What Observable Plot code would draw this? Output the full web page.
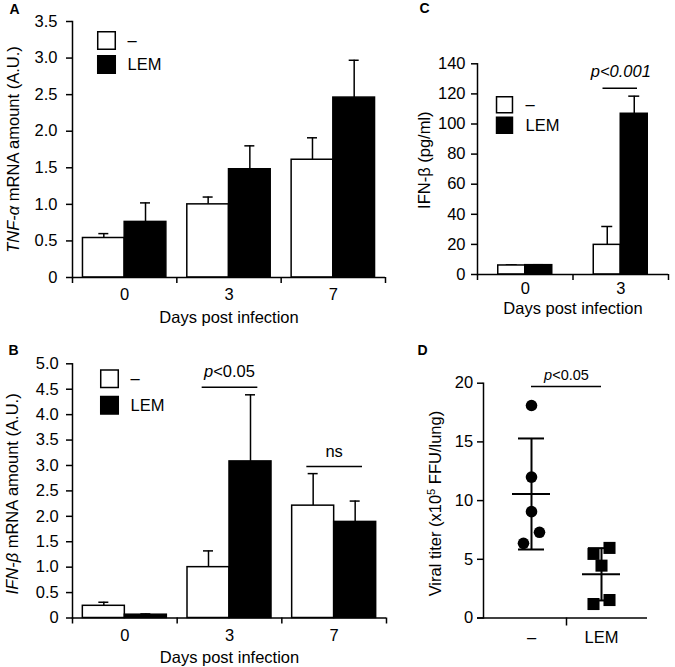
<!DOCTYPE html>
<html><head><meta charset="utf-8">
<script src="https://cdn.jsdelivr.net/npm/d3@7"></script>
<script src="https://cdn.jsdelivr.net/npm/@observablehq/plot@0.6"></script>
<style>
body{margin:0;background:#fff;}
#fig{position:relative;width:675px;height:667px;background:#fff;overflow:hidden;}
#fig > svg{position:absolute;}
</style></head><body><div id="fig"></div>
<script>
// ---------- data ----------
const days = ["0", "3", "7"];
const daysC = ["0", "3"];
const groups = ["–", "LEM"];

// A: TNF-α mRNA (mean, SEM)
const tnfCtrl = [0.54, 1.00, 1.61];
const tnfCtrlErr = [0.06, 0.10, 0.30];
const tnfLem = [0.76, 1.48, 2.46];
const tnfLemErr = [0.26, 0.32, 0.51];

// B: IFN-β mRNA
const ifnmCtrl = [0.24, 1.00, 2.21];
const ifnmCtrlErr = [0.07, 0.32, 0.63];
const ifnmLem = [0.065, 3.08, 1.89];
const ifnmLemErr = [0.015, 1.31, 0.41];

// C: IFN-β protein (pg/ml)
const ifnpCtrl = [6.0, 19.7];
const ifnpCtrlErr = [0.4, 12.2];
const ifnpLem = [6.2, 106.8];
const ifnpLemErr = [0.3, 11.7];

// D: viral titer (x10^5 FFU/lung)
const titerCtrl = [18.1, 12.0, 9.06, 7.3, 6.36];
const titerLem = [5.97, 5.46, 4.46, 1.53, 1.19];

// tick values
const ticksA = [0, 0.5, 1, 1.5, 2, 2.5, 3, 3.5];
const ticksB = [0, 0.5, 1, 1.5, 2, 2.5, 3, 3.5, 4, 4.5, 5];
const ticksC = [0, 20, 40, 60, 80, 100, 120, 140];
const ticksD = [0, 5, 10, 15, 20];

// significance annotations
const sigB = [{day: "3", y: 4.54, label: "p<0.05"}, {day: "7", y: 2.98, label: "ns"}];
const sigC = [{day: "3", y: 123.8, label: "p<0.001"}];
const sigD = [{y: 19.72, label: "p<0.05"}];

// ---------- helpers ----------
const FONT = "'Liberation Sans', Arial, Helvetica, sans-serif";
const FS = 16.5;
const fmt1 = d => d === 0 ? "0" : d.toFixed(1);
const fig = document.getElementById("fig");
const SVGNS = "http://www.w3.org/2000/svg";

const RICH = {
  "TNF-α mRNA amount (A.U.)": [["TNF-α", {"font-style": "italic"}], [" mRNA amount (A.U.)"]],
  "IFN-β mRNA amount (A.U.)": [["IFN-β", {"font-style": "italic"}], [" mRNA amount (A.U.)"]],
  "p<0.05": [["p", {"font-style": "italic"}], ["<0.05"]],
  "Viral titer (x10⁵ FFU/lung)": [["Viral titer (x10"], ["5", {"baseline-shift": "super", "font-size": "11px"}], [" FFU/lung)"]]
};
function richify(svg) {
  svg.querySelectorAll("text").forEach(t => {
    const parts = RICH[t.textContent];
    if (!parts) return;
    t.textContent = "";
    for (const [s, attrs] of parts) {
      const ts = document.createElementNS(SVGNS, "tspan");
      ts.textContent = s;
      if (attrs) for (const k in attrs) ts.setAttribute(k, attrs[k]);
      t.appendChild(ts);
    }
  });
}
function place(svg, box) {
  svg.style.left = box.left + "px";
  svg.style.top = box.top + "px";
  richify(svg);
  fig.appendChild(svg);
}
const style = {fontFamily: FONT, fontSize: FS + "px", color: "black", background: "transparent", overflow: "visible"};

function legendMarks(lg) {
  return groups.flatMap((g, i) => [
    Plot.dot([g], {x: null, y: null, frameAnchor: "top-left", dx: lg.dx, dy: lg.dy + i * lg.step,
      symbol: "square", r: lg.r, fill: i ? "black" : "white", stroke: "black", strokeWidth: 1.5}),
    Plot.text([g], {x: null, y: null, frameAnchor: "top-left", dx: lg.tx, dy: lg.dy + i * lg.step,
      text: d => d, textAnchor: "start", lineAnchor: "middle", fontSize: FS})
  ]);
}

function barPanel(c) {
  const b = c.box;
  const fw = b.width - b.ml - b.mr;
  const bw = fw / c.cats.length;
  const half = bw / 2;
  const ctrlRows = c.cats.map((d, i) => ({day: d, v: c.ctrl[i], hi: c.ctrl[i] + c.ctrlErr[i]}));
  const lemRows = c.cats.map((d, i) => ({day: d, v: c.lem[i], hi: c.lem[i] + c.lemErr[i]}));
  const W = c.barW, C = c.capW;
  const svg = Plot.plot({
    width: b.width, height: b.height,
    marginLeft: b.ml, marginRight: b.mr, marginTop: b.mt, marginBottom: b.mb,
    style,
    x: {type: "band", domain: c.cats, padding: 0, round: false},
    y: {domain: c.domain},
    marks: [
      Plot.ruleX(ctrlRows, {x: "day", y1: "v", y2: "hi", dx: -W / 2, strokeWidth: 1.5}),
      Plot.ruleX(lemRows, {x: "day", y1: "v", y2: "hi", dx: W / 2, strokeWidth: 1.5}),
      Plot.tickY(ctrlRows, {x: "day", y: "hi", insetLeft: half - W / 2 - C / 2, insetRight: half + W / 2 - C / 2, strokeWidth: 1.5}),
      Plot.tickY(lemRows, {x: "day", y: "hi", insetLeft: half + W / 2 - C / 2, insetRight: half - W / 2 - C / 2, strokeWidth: 1.5}),
      Plot.barY(ctrlRows, {x: "day", y: "v", fill: "white", stroke: "black", strokeWidth: 1.5, insetLeft: half - W, insetRight: half}),
      Plot.barY(lemRows, {x: "day", y: "v", fill: "black", stroke: "black", strokeWidth: 1.5, insetLeft: half, insetRight: half - W}),
      Plot.ruleY([0], {strokeWidth: 1.5}),
      Plot.frame({anchor: "left", strokeWidth: 1.5}),
      Plot.axisY({ticks: c.ticks, tickFormat: c.fmt, tickSize: 6, tickPadding: c.tickPad, fontSize: FS, strokeWidth: 1.5, label: null}),
      Plot.axisX({ticks: c.cats, tickFormat: () => "", tickSize: 6, dx: -half, strokeWidth: 1.5, label: null}),
      Plot.axisX({ticks: [c.cats[c.cats.length - 1]], tickFormat: () => "", tickSize: 6, dx: half, strokeWidth: 1.5, label: null}),
      Plot.text(c.cats, {x: d => d, frameAnchor: "bottom", dy: c.tickLabDy, lineAnchor: "middle", text: d => d, fontSize: FS}),
      Plot.tickY(c.sig, {x: "day", y: "y", insetLeft: c.sigInset[0], insetRight: c.sigInset[1], strokeWidth: 1.5}),
      Plot.text(c.sig, {x: "day", y: "y", text: "label", dy: c.sigDy, lineAnchor: "middle", fontSize: FS, fontStyle: c.sigItalic ? "italic" : "normal"}),
      ...legendMarks(c.legend),
      Plot.text([c.letter], {x: null, y: null, frameAnchor: "top-left", text: d => d, dx: c.letterPos[0], dy: c.letterPos[1], fontWeight: "bold", fontSize: 14, lineAnchor: "middle"}),
      Plot.text([c.ylab], {x: null, y: null, frameAnchor: "left", text: d => d, rotate: -90, dx: c.ylabPos[0], dy: c.ylabPos[1], fontSize: FS, lineAnchor: "middle", textAnchor: "middle"}),
      Plot.text(["Days post infection"], {x: null, y: null, frameAnchor: "bottom", text: d => d, dy: c.xlabDy, fontSize: FS, lineAnchor: "middle"})
    ]
  });
  place(svg, b);
}

// ---------- panel A ----------
barPanel({
  box: {left: 0, top: 0, width: 400, height: 335, ml: 72, mr: 15, mt: 21, mb: 58},
  cats: days, ctrl: tnfCtrl, ctrlErr: tnfCtrlErr, lem: tnfLem, lemErr: tnfLemErr,
  domain: [0, 3.5], ticks: ticksA, fmt: fmt1, tickPad: 9, tickLabDy: 17,
  barW: 41.7, capW: 10, sig: [], sigInset: [25, 24], sigDy: -15, sigItalic: false,
  legend: {dx: 34, dy: 19, step: 24, tx: 55, r: 9.9},
  letter: "A", letterPos: [-63, -12],
  ylab: "TNF-α mRNA amount (A.U.)", ylabPos: [-59, 0], xlabDy: 40
});

// ---------- panel B ----------
barPanel({
  box: {left: 0, top: 335, width: 400, height: 332, ml: 72, mr: 14, mt: 28.3, mb: 49.5},
  cats: days, ctrl: ifnmCtrl, ctrlErr: ifnmCtrlErr, lem: ifnmLem, lemErr: ifnmLemErr,
  domain: [0, 5], ticks: ticksB, fmt: fmt1, tickPad: 7.7, tickLabDy: 18,
  barW: 42, capW: 10, sig: sigB, sigInset: [25, 24], sigDy: -15, sigItalic: false,
  legend: {dx: 37, dy: 15, step: 26.5, tx: 58, r: 9.9},
  letter: "B", letterPos: [-64, -13.3],
  ylab: "IFN-β mRNA amount (A.U.)", ylabPos: [-60, 3], xlabDy: 39.5
});

// ---------- panel C ----------
barPanel({
  box: {left: 400, top: 0, width: 275, height: 335, ml: 77, mr: 7, mt: 63.3, mb: 61},
  cats: daysC, ctrl: ifnpCtrl, ctrlErr: ifnpCtrlErr, lem: ifnpLem, lemErr: ifnpLemErr,
  domain: [0, 140], ticks: ticksC, fmt: d => String(d), tickPad: 6, tickLabDy: 14.5,
  barW: 27, capW: 11, sig: sigC, sigInset: [30, 31], sigDy: -16, sigItalic: true,
  legend: {dx: 27, dy: 41, step: 20.5, tx: 48, r: 9},
  letter: "C", letterPos: [-58, -54.8],
  ylab: "IFN-β (pg/ml)", ylabPos: [-52.5, -9], xlabDy: 34
});

// ---------- panel D ----------
(function () {
  const b = {left: 400, top: 335, width: 275, height: 332, ml: 83, mr: 28, mt: 47.7, mb: 49.5};
  const fw = b.width - b.ml - b.mr;
  const fh = b.height - b.mt - b.mb;
  const step = 70, firstCenter = 48;          // layout of the two category columns (px)
  const pxPerUnit = fh / 20;
  // simple beeswarm: points closer than ~a symbol in y are spread side by side
  function spread(values, threshold, spacing) {
    const order = d3.range(values.length).sort((a, b) => values[a] - values[b]);
    const rows = [];
    for (const i of order) {
      const row = rows[rows.length - 1];
      if (row && (values[i] - values[row[row.length - 1]]) * pxPerUnit < threshold) row.push(i);
      else rows.push([i]);
    }
    const off = new Array(values.length).fill(0);
    for (const row of rows) row.forEach((i, k) => off[i] = (k - (row.length - 1) / 2) * spacing);
    return off;
  }
  const series = [titerCtrl, titerLem];
  const pts = series.flatMap((vals, gi) => {
    const off = spread(vals, 11.5, 16);
    return vals.map((v, j) => ({gi, v, x: gi + off[j] / step}));
  });
  const stats = series.map((vals, gi) => {
    const m = d3.mean(vals), s = d3.deviation(vals);
    return {gi, mean: m, lo: m - s, hi: m + s};
  });
  const meanHalf = 19 / step, capHalf = 13 / step;
  const svg = Plot.plot({
    width: b.width, height: b.height,
    marginLeft: b.ml, marginRight: b.mr, marginTop: b.mt, marginBottom: b.mb,
    style,
    x: {type: "linear", domain: [-firstCenter / step, (fw - firstCenter) / step]},
    y: {domain: [0, 20]},
    marks: [
      Plot.ruleY([0], {insetLeft: -6, strokeWidth: 1.5}),
      Plot.frame({anchor: "left", strokeWidth: 1.5}),
      Plot.axisY({ticks: ticksD, tickSize: 6, tickPadding: 4.3, fontSize: FS, strokeWidth: 1.5, label: null}),
      Plot.axisX({ticks: [0.5], tickFormat: () => "", tickSize: 8, strokeWidth: 1.5, label: null}),
      Plot.text(groups, {x: (d, i) => i, frameAnchor: "bottom", dy: 19.5, lineAnchor: "middle", text: d => d, fontSize: FS}),
      Plot.ruleX(stats, {x: "gi", y1: "lo", y2: "hi", strokeWidth: 2}),
      Plot.ruleY(stats, {y: "mean", x1: d => d.gi - meanHalf, x2: d => d.gi + meanHalf, strokeWidth: 2}),
      Plot.ruleY(stats, {y: "hi", x1: d => d.gi - capHalf, x2: d => d.gi + capHalf, strokeWidth: 2}),
      Plot.ruleY(stats, {y: "lo", x1: d => d.gi - capHalf, x2: d => d.gi + capHalf, strokeWidth: 2}),
      Plot.dot(pts.filter(p => p.gi === 0), {x: "x", y: "v", r: 5.8, fill: "black", stroke: "none"}),
      Plot.dot(pts.filter(p => p.gi === 1), {x: "x", y: "v", symbol: "square", r: 6.8, fill: "black", stroke: "none"}),
      Plot.ruleY(sigD, {y: "y", x1: 0, x2: 1, strokeWidth: 1.5}),
      Plot.text(sigD, {x: 0.5, y: "y", text: "label", dy: -11, lineAnchor: "middle", fontSize: 14.5}),
      Plot.text(["D"], {x: null, y: null, frameAnchor: "top-left", text: d => d, dx: -66, dy: -32.7, fontWeight: "bold", fontSize: 14, lineAnchor: "middle"}),
      Plot.text(["Viral titer (x10⁵ FFU/lung)"], {x: null, y: null, frameAnchor: "left", text: d => d, rotate: -90, dx: -48, dy: 3, fontSize: FS, lineAnchor: "middle", textAnchor: "middle"})
    ]
  });
  place(svg, b);
})();
</script></body></html>
